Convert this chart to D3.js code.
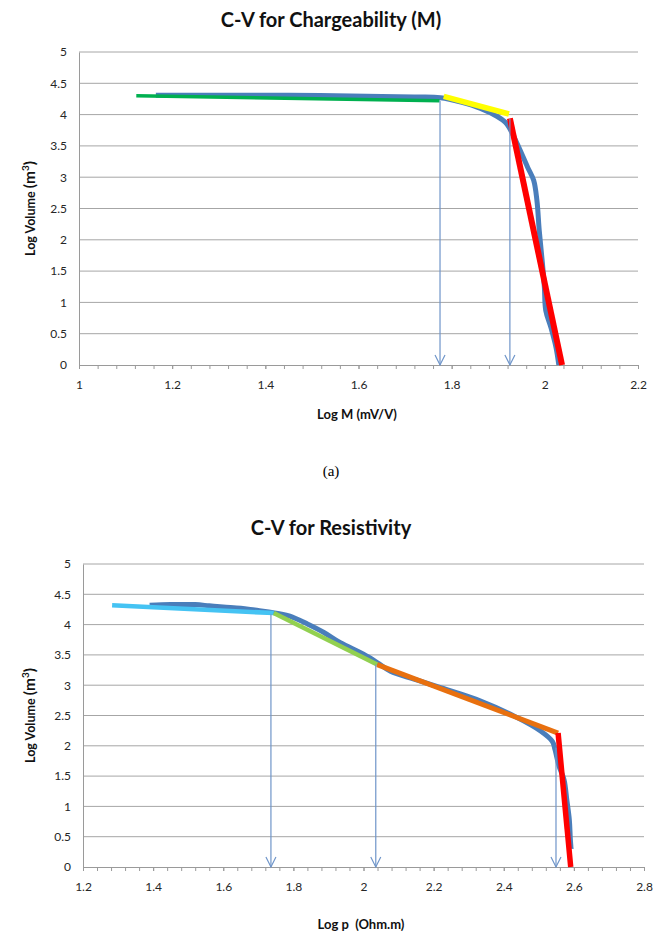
<!DOCTYPE html>
<html lang="en">
<head>
    <meta charset="UTF-8">
    <title>C-V plots</title>
    <script src="https://d3js.org/d3.v7.min.js"></script>
    <style>
        body { margin: 0; background: #fff; }
        text { font-family: Lato, "Liberation Sans", sans-serif; }
        .tick text { font-size: 12px; fill: #262626; }
        .title { font-size: 20px; font-weight: bold; fill: #111; }
        .axis-label { font-weight: bold; fill: #111; }
    </style>
</head>
<body>
    <svg width="662" height="931" id="chart"></svg>

    <script>
        // chargeability chart data (log M vs log volume)
        const chgX = [1.165, 1.30, 1.45, 1.55, 1.65, 1.72, 1.776, 1.82, 1.862, 1.898, 1.915, 1.923, 1.941, 1.963, 1.976, 1.983, 1.988, 1.995, 1.999, 2.002, 2.013, 2.024, 2.03];
        const chgY = [4.31, 4.31, 4.31, 4.30, 4.29, 4.28, 4.27, 4.20, 4.10, 3.97, 3.88, 3.80, 3.53, 3.16, 2.95, 2.63, 2.15, 1.61, 1.24, 0.87, 0.60, 0.28, 0.0];
        const chgFits = [
            { color: "#00b050", w: 3.5, pts: [[1.123, 4.30], [1.774, 4.22]] },
            { color: "#ffff00", w: 5.5, pts: [[1.783, 4.29], [1.923, 4.01]] },
            { color: "#ff0000", w: 6, pts: [[1.925, 3.94], [2.037, 0]] }
        ];
        const chgArrows = [[1.775, 4.22], [1.925, 3.93]];
        const chgXTicks = [1, 1.2, 1.4, 1.6, 1.8, 2, 2.2];

        // resistivity chart data (log rho vs log volume)
        const resX = [1.39, 1.45, 1.52, 1.56, 1.60, 1.65, 1.69, 1.73, 1.76, 1.79, 1.84, 1.887, 1.934, 2.0, 2.04, 2.077, 2.144, 2.22, 2.334, 2.43, 2.506, 2.539, 2.546, 2.558, 2.572, 2.58, 2.587, 2.59, 2.592];
        const resY = [4.32, 4.33, 4.33, 4.31, 4.29, 4.27, 4.24, 4.21, 4.18, 4.14, 4.01, 3.87, 3.70, 3.51, 3.37, 3.23, 3.10, 2.96, 2.74, 2.49, 2.24, 2.07, 1.94, 1.66, 1.44, 1.10, 0.78, 0.45, 0.30];
        const resFits = [
            { color: "#45c3f3", w: 4.5, pts: [[1.283, 4.32], [1.744, 4.19]] },
            { color: "#92d050", w: 4.5, pts: [[1.744, 4.19], [2.039, 3.34]] },
            { color: "#e8700f", w: 5, pts: [[2.039, 3.34], [2.555, 2.21]] },
            { color: "#ff0000", w: 5.5, pts: [[2.555, 2.21], [2.591, 0]] }
        ];
        const resArrows = [[1.736, 4.17], [2.035, 3.34], [2.549, 1.97]];
        const resXTicks = [1.2, 1.4, 1.6, 1.8, 2, 2.2, 2.4, 2.6, 2.8];

        const yTicks = [0, 0.5, 1, 1.5, 2, 2.5, 3, 3.5, 4, 4.5, 5];

        const svg = d3.select("#chart");
        svg.append("rect").attr("width", 662).attr("height", 931).attr("fill", "#fff");

        function drawChart(o) {
            const x = d3.scaleLinear().domain(o.xDomain).range([o.left, o.right]);
            const y = d3.scaleLinear().domain([0, 5]).range([o.bottom, o.top]);
            const g = svg.append("g");

            //title
            g.append("text")
                .attr("class", "title")
                .attr("x", 331).attr("y", o.titleY)
                .attr("text-anchor", "middle")
                .text(o.title);

            //horizontal gridlines
            g.selectAll(".grid")
                .data(yTicks.filter(d => d > 0))
                .enter().append("line")
                .attr("x1", o.left).attr("x2", o.right)
                .attr("y1", d => y(d)).attr("y2", d => y(d))
                .attr("stroke", "#a6a6a6").attr("stroke-width", 1);

            //y axis
            const ya = g.append("g")
                .attr("transform", `translate(${o.left},0)`)
                .call(d3.axisLeft(y).tickValues(yTicks).tickSize(0).tickPadding(12).tickFormat(d => d));
            ya.select(".domain").attr("stroke", "#9a9a9a");

            //x axis with minor ticks
            const minor = d3.range(0, Math.round((o.xDomain[1] - o.xDomain[0]) / 0.04) + 1)
                .map(i => o.xDomain[0] + i * 0.04);
            g.append("g")
                .attr("transform", `translate(0,${o.bottom})`)
                .call(d3.axisBottom(x).tickValues(minor).tickSize(4).tickFormat(""))
                .call(a => a.selectAll("line").attr("stroke", "#9a9a9a"))
                .select(".domain").remove();
            const xa = g.append("g")
                .attr("transform", `translate(0,${o.bottom})`)
                .call(d3.axisBottom(x).tickValues(o.xTicks).tickSize(4).tickPadding(11).tickFormat(d => d));
            xa.select(".domain").attr("stroke", "#9a9a9a");
            xa.selectAll(".tick line").attr("stroke", "#9a9a9a");

            //blue measured curve
            const line = d3.line().x(d => x(d[0])).y(d => y(d[1])).curve(d3.curveCatmullRom);
            const pts = o.xs.map((v, i) => [v, o.ys[i]]);
            g.append("path")
                .datum(pts)
                .attr("d", line)
                .attr("fill", "none")
                .attr("stroke", "#4a7ebb")
                .attr("stroke-width", 5)
                .attr("stroke-linejoin", "round");

            //fitted segments
            o.fits.forEach(f => {
                g.append("path")
                    .datum(f.pts)
                    .attr("d", d3.line().x(d => x(d[0])).y(d => y(d[1])))
                    .attr("stroke", f.color)
                    .attr("stroke-width", f.w)
                    .attr("fill", "none");
            });

            //arrows down to axis
            o.arrows.forEach(a => {
                const ax = x(a[0]);
                g.append("line")
                    .attr("x1", ax).attr("x2", ax)
                    .attr("y1", y(a[1])).attr("y2", o.bottom)
                    .attr("stroke", "#6f95c9").attr("stroke-width", 1.2);
                g.append("path")
                    .attr("d", `M${ax - 5},${o.bottom - 10}L${ax},${o.bottom}L${ax + 5},${o.bottom - 10}`)
                    .attr("fill", "none")
                    .attr("stroke", "#6f95c9").attr("stroke-width", 1.2);
            });

            //y label
            const yl = g.append("text")
                .attr("class", "axis-label")
                .attr("transform", `translate(35,${(o.top + o.bottom) / 2}) rotate(-90)`)
                .attr("text-anchor", "middle");
            yl.append("tspan").attr("font-size", 12.5).text("Log Volume ");
            yl.append("tspan").attr("font-size", 15.5).text("(m");
            yl.append("tspan").attr("font-size", 10).attr("dy", -6).text("3");
            yl.append("tspan").attr("font-size", 15.5).attr("dy", 6).text(")");

            //x label
            g.append("text")
                .attr("class", "axis-label")
                .attr("font-size", 13)
                .attr("x", o.xLabelX).attr("y", o.xLabelY)
                .attr("text-anchor", "middle")
                .attr("xml:space", "preserve")
                .text(o.xLabel);
        }

        drawChart({
            title: "C-V for Chargeability (M)", titleY: 27,
            xDomain: [1, 2.2], left: 79, right: 638, top: 52, bottom: 365,
            xTicks: chgXTicks, xs: chgX, ys: chgY, fits: chgFits, arrows: chgArrows,
            xLabel: "Log M (mV/V)", xLabelX: 357, xLabelY: 419
        });

        drawChart({
            title: "C-V for Resistivity", titleY: 535,
            xDomain: [1.2, 2.8], left: 83, right: 644, top: 564, bottom: 867,
            xTicks: resXTicks, xs: resX, ys: resY, fits: resFits, arrows: resArrows,
            xLabel: "Log p  (Ohm.m)", xLabelX: 361, xLabelY: 929
        });

        //caption
        svg.append("text")
            .attr("x", 331).attr("y", 476)
            .attr("text-anchor", "middle")
            .style("font-family", "'Liberation Serif', serif")
            .attr("font-size", 15)
            .text("(a)");
    </script>
</body>
</html>
